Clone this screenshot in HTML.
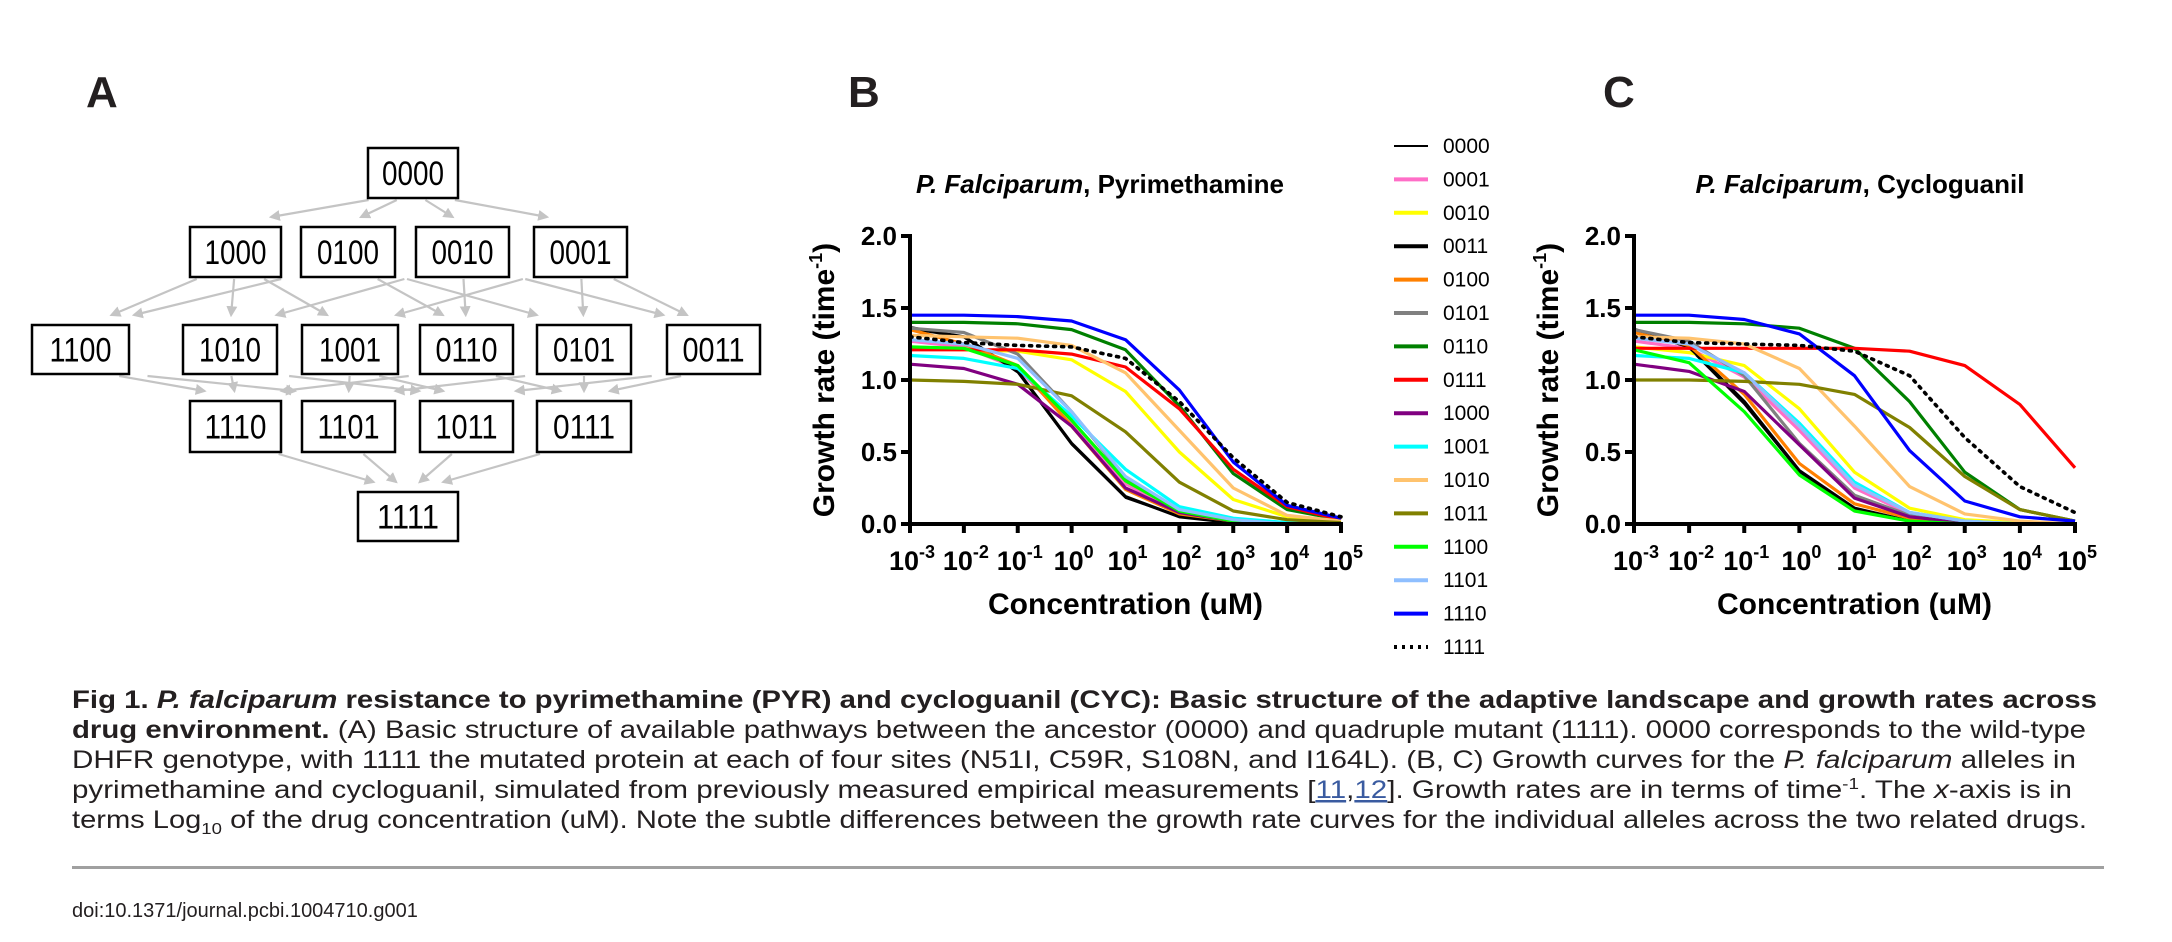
<!DOCTYPE html>
<html><head><meta charset="utf-8">
<style>
html,body{margin:0;padding:0;background:#fff;}
svg{display:block;font-family:"Liberation Sans",Arial,sans-serif;}
</style></head>
<body>
<svg id="fig" width="2172" height="942" viewBox="0 0 2172 942" xmlns="http://www.w3.org/2000/svg">
<defs>
<marker id="ah" viewBox="0 0 10 10" refX="8" refY="5" markerWidth="5" markerHeight="5" orient="auto"><path d="M0,0 L10,5 L0,10 z" fill="#c4c4c4"/></marker>
</defs>
<text x="86" y="107" font-size="44" font-weight="bold" fill="#231f20">A</text>
<text x="848" y="107" font-size="44" font-weight="bold" fill="#231f20">B</text>
<text x="1603" y="107" font-size="44" font-weight="bold" fill="#231f20">C</text>
<g id="landscape"></g>
<g id="chartB"></g>
<g id="chartC"></g>
<g id="legend"></g>

<g font-size="25" fill="#231f20">
<text x="72" y="708" textLength="2025" lengthAdjust="spacingAndGlyphs" font-weight="bold">Fig 1. <tspan font-style="italic">P. falciparum</tspan> resistance to pyrimethamine (PYR) and cycloguanil (CYC): Basic structure of the adaptive landscape and growth rates across</text>
<text x="72" y="738" textLength="2014" lengthAdjust="spacingAndGlyphs"><tspan font-weight="bold">drug environment.</tspan> (A) Basic structure of available pathways between the ancestor (0000) and quadruple mutant (1111). 0000 corresponds to the wild-type</text>
<text x="72" y="768" textLength="2004" lengthAdjust="spacingAndGlyphs">DHFR genotype, with 1111 the mutated protein at each of four sites (N51I, C59R, S108N, and I164L). (B, C) Growth curves for the <tspan font-style="italic">P. falciparum</tspan> alleles in</text>
<text x="72" y="798" textLength="2000" lengthAdjust="spacingAndGlyphs">pyrimethamine and cycloguanil, simulated from previously measured empirical measurements [<tspan fill="#3a5ba0" text-decoration="underline">11</tspan>,<tspan fill="#3a5ba0" text-decoration="underline">12</tspan>]. Growth rates are in terms of time<tspan font-size="16" dy="-9">-1</tspan><tspan dy="9">. The </tspan><tspan font-style="italic">x</tspan>-axis is in</text>
<text x="72" y="828" textLength="2015" lengthAdjust="spacingAndGlyphs">terms Log<tspan font-size="16" dy="6">10</tspan><tspan dy="-6"> of the drug concentration (uM). Note the subtle differences between the growth rate curves for the individual alleles across the two related drugs.</tspan></text>
</g>
<rect x="72" y="866" width="2032" height="3" fill="#a0a0a0"/>
<text x="72" y="917" font-size="20" fill="#231f20">doi:10.1371/journal.pcbi.1004710.g001</text>
</svg>
<script>
const NS='http://www.w3.org/2000/svg';
const genotypes=['0000','0001','0010','0011','0100','0101','0110','0111','1000','1001','1010','1011','1100','1101','1110','1111'];
const colors=['#000000','#ff6ec7','#ffff00','#000000','#ff8000','#808080','#008000','#ff0000','#800080','#00ffff','#ffc36e','#808000','#00ff00','#8fbfff','#0000ff','#000000'];
const xTicks=[-3,-2,-1,0,1,2,3,4,5];
const yTicks=['0.0','0.5','1.0','1.5','2.0'];
const pyrRates={
'0000':[1.37,1.30,1.05,0.55,0.18,0.05,0.01,0,0],
'0001':[1.27,1.23,1.08,0.70,0.28,0.08,0.02,0.01,0],
'0010':[1.22,1.21,1.20,1.14,0.92,0.50,0.17,0.05,0.01],
'0011':[1.36,1.30,1.06,0.56,0.19,0.05,0.01,0,0],
'0100':[1.35,1.25,1.10,0.68,0.24,0.07,0.02,0,0],
'0101':[1.36,1.33,1.18,0.78,0.32,0.09,0.02,0,0],
'0110':[1.40,1.40,1.39,1.35,1.21,0.82,0.35,0.10,0.03],
'0111':[1.21,1.21,1.21,1.18,1.09,0.80,0.38,0.12,0.03],
'1000':[1.11,1.08,0.97,0.68,0.25,0.08,0.02,0,0],
'1001':[1.17,1.15,1.08,0.75,0.38,0.12,0.04,0.01,0],
'1010':[1.31,1.30,1.29,1.24,1.05,0.65,0.25,0.06,0.02],
'1011':[1.00,0.99,0.97,0.89,0.64,0.29,0.09,0.03,0.01],
'1100':[1.23,1.22,1.10,0.72,0.30,0.09,0.02,0,0],
'1101':[1.28,1.25,1.15,0.78,0.33,0.10,0.03,0,0],
'1110':[1.45,1.45,1.44,1.41,1.28,0.93,0.43,0.13,0.04],
'1111':[1.30,1.26,1.24,1.23,1.15,0.85,0.46,0.15,0.05]};
const cycRates={
'0000':[1.36,1.22,0.83,0.36,0.10,0.02,0,0,0],
'0001':[1.27,1.22,1.02,0.65,0.25,0.07,0.02,0,0],
'0010':[1.23,1.19,1.10,0.80,0.36,0.11,0.03,0.01,0],
'0011':[1.35,1.23,0.85,0.37,0.11,0.02,0,0,0],
'0100':[1.33,1.24,0.90,0.42,0.14,0.04,0.01,0,0],
'0101':[1.35,1.27,1.03,0.56,0.20,0.06,0.01,0,0],
'0110':[1.40,1.40,1.39,1.36,1.22,0.85,0.36,0.10,0.02],
'0111':[1.22,1.22,1.22,1.22,1.22,1.20,1.10,0.83,0.39],
'1000':[1.11,1.06,0.92,0.55,0.18,0.05,0.01,0,0],
'1001':[1.17,1.15,1.05,0.70,0.29,0.08,0.02,0,0],
'1010':[1.30,1.29,1.25,1.08,0.68,0.26,0.07,0.02,0],
'1011':[1.00,1.00,0.99,0.97,0.90,0.67,0.33,0.10,0.02],
'1100':[1.21,1.12,0.78,0.34,0.09,0.02,0,0,0],
'1101':[1.29,1.25,1.05,0.68,0.27,0.08,0.02,0,0],
'1110':[1.45,1.45,1.42,1.32,1.03,0.51,0.16,0.05,0.02],
'1111':[1.30,1.26,1.25,1.24,1.20,1.03,0.60,0.26,0.08]};

function mk(tag,attrs,parent){const e=document.createElementNS(NS,tag);for(const k in attrs)e.setAttribute(k,attrs[k]);parent.appendChild(e);return e;}
function lw(g){return g==='0000'?1.6:3.2;}

function drawChart(id,rates,x0,x1,titleText,titleX){
  const g=document.getElementById(id);
  const yt=236,yb=524;
  const xs=i=>x0+(xTicks[i]-xTicks[0])*(x1-x0)/(xTicks[xTicks.length-1]-xTicks[0]);
  const ys=v=>yb-v*(yb-yt)/2;
  const t=mk('text',{x:titleX,y:193,'font-size':26,'font-weight':'bold','text-anchor':'middle',fill:'#000'},g);
  
  
  const a=mk('tspan',{'font-style':'italic'},t);a.textContent='P. Falciparum';
  const b=mk('tspan',{},t);b.textContent=', '+titleText;
  genotypes.forEach((gt,k)=>{
    const pts=rates[gt].map((v,i)=>xs(i).toFixed(1)+','+ys(v).toFixed(1)).join(' ');
    const attrs={points:pts,fill:'none',stroke:colors[k],'stroke-width':gt==='1111'?3.6:lw(gt),'stroke-linejoin':'round'};
    if(gt==='1111'){attrs['stroke-dasharray']='2 6';attrs['stroke-linecap']='round';}
    const p=mk('polyline',attrs,g);
    
    
  });
  const ya=mk('line',{x1:x0,y1:yt-2,x2:x0,y2:yb+2,stroke:'#000','stroke-width':4},g);
  
  
  const xa=mk('line',{x1:x0-2,y1:yb,x2:x1+2,y2:yb,stroke:'#000','stroke-width':4},g);
  
  
  yTicks.forEach(lbl=>{
    const y=ys(parseFloat(lbl));
    mk('line',{x1:x0-9,y1:y,x2:x0,y2:y,stroke:'#000','stroke-width':4},g);
    const tl=mk('text',{x:x0-13,y:y+9,'font-size':26,'font-weight':'bold','text-anchor':'end',fill:'#000'},g);
    
    
    tl.textContent=lbl;
  });
  xTicks.forEach((e,i)=>{
    const x=xs(i);
    mk('line',{x1:x,y1:yb,x2:x,y2:yb+9,stroke:'#000','stroke-width':4},g);
    const tl=mk('text',{x:x+2,y:yb+46,'font-size':27,'font-weight':'bold','text-anchor':'middle',fill:'#000'},g);
    
    
    const s1=mk('tspan',{},tl);s1.textContent='10';
    const s2=mk('tspan',{'font-size':18,dy:-12},tl);s2.textContent=String(e);
  });
  const xt=mk('text',{x:(x0+x1)/2,y:yb+90,'font-size':30,'font-weight':'bold','text-anchor':'middle',fill:'#000'},g);
  
  
  xt.textContent='Concentration (uM)';
  const cy=(yt+yb)/2;
  const ytl=mk('text',{x:x0-76,y:cy,'font-size':30,'font-weight':'bold','text-anchor':'middle',fill:'#000',transform:'rotate(-90 '+(x0-76)+' '+cy+')'},g);
  
  
  const q1=mk('tspan',{},ytl);q1.textContent='Growth rate (time';
  const q2=mk('tspan',{'font-size':18,dy:-12},ytl);q2.textContent='-1';
  const q3=mk('tspan',{dy:12},ytl);q3.textContent=')';
}
drawChart('chartB',pyrRates,910,1341,'Pyrimethamine',1100);
drawChart('chartC',cycRates,1634,2075,'Cycloguanil',1860);

const lg=document.getElementById('legend');
genotypes.forEach((gt,k)=>{
  const y=146+k*33.4;
  const attrs={x1:1394,y1:y,x2:1428,y2:y,stroke:colors[k],'stroke-width':gt==='0000'?2:4};
  if(gt==='1111'){attrs['stroke-dasharray']='3 5';attrs['stroke-width']=4;}
  const l=mk('line',attrs,lg);
  
  
  const t=mk('text',{x:1443,y:y+7,'font-size':21,fill:'#000'},lg);
  
  
  t.textContent=gt;
});

const boxes={
'0000':[368,148,458,198],
'1000':[190,227,281,277],'0100':[301,227,395,277],'0010':[416,227,509,277],'0001':[534,227,627,277],
'1100':[32,325,129,374],'1010':[183,325,277,374],'1001':[302,325,398,374],'0110':[420,325,513,374],'0101':[537,325,631,374],'0011':[667,325,760,374],
'1110':[190,401,281,452],'1101':[302,401,395,452],'1011':[420,401,513,452],'0111':[537,401,631,452],
'1111':[358,492,458,541]};
const L=document.getElementById('landscape');
const names=Object.keys(boxes);
names.forEach(p=>{names.forEach(c=>{
  let diff=0,add=true;
  for(let i=0;i<4;i++){if(p[i]!==c[i]){diff++;if(p[i]!=='0')add=false;}}
  if(diff===1&&add){
    const P=boxes[p],C=boxes[c];
    const pcx=(P[0]+P[2])/2,ccx=(C[0]+C[2])/2;
    const dx=ccx-pcx;
    const ln=mk('line',{x1:pcx+dx*0.25,y1:P[3]+2,x2:ccx-dx*0.2,y2:C[1]-10,stroke:'#c4c4c4','stroke-width':2.2,'marker-end':'url(#ah)'},L);
    
    
  }
});});
names.forEach(n=>{
  const b=boxes[n];
  const r=mk('rect',{x:b[0],y:b[1],width:b[2]-b[0],height:b[3]-b[1],fill:'#fff',stroke:'#000','stroke-width':2.5},L);
  
  
  const t=mk('text',{x:(b[0]+b[2])/2,y:(b[1]+b[3])/2+12,'font-size':34,'text-anchor':'middle',fill:'#000',textLength:62,lengthAdjust:'spacingAndGlyphs'},L);
  
  
  t.textContent=n;
});
</script>
</body></html>
